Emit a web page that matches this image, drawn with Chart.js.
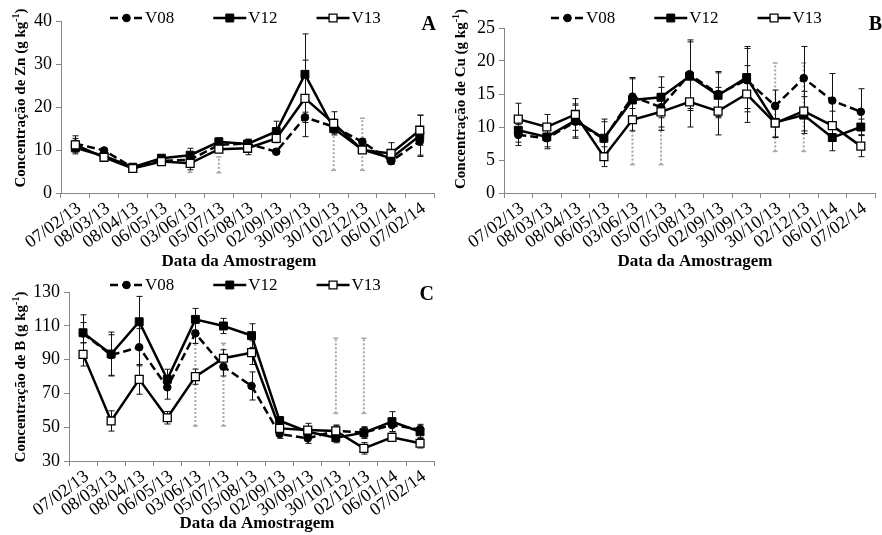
<!DOCTYPE html>
<html><head><meta charset="utf-8">
<script src="https://cdn.jsdelivr.net/npm/chart.js@4.4.0/dist/chart.umd.min.js"></script>
<style>
html,body{margin:0;padding:0;background:#fff;width:882px;height:535px;overflow:hidden}
canvas{position:absolute;display:block}
#cA{left:0;top:0}
#cB{left:441px;top:0}
#cC{left:0;top:270px}
</style></head><body>
<canvas id="cA" width="441" height="270"></canvas>
<canvas id="cB" width="441" height="270"></canvas>
<canvas id="cC" width="441" height="265"></canvas>
<script>
// ---------- DATA ----------
const categories = ['07/02/13','08/03/13','08/04/13','06/05/13','03/06/13','05/07/13','05/08/13','02/09/13','30/09/13','30/10/13','02/12/13','06/01/14','07/02/14'];
const seriesNames = ['V08','V12','V13'];

// Panel A - Zn
const znTicks = [0, 10, 20, 30, 40];
const znV08 = [11.5, 9.9, 5.9, 7.5, 7.7, 11.2, 11.5, 9.6, 17.6, 15.4, 11.9, 7.4, 12.0];
const znV12 = [10.5, 8.6, 6.0, 8.1, 8.8, 11.9, 11.4, 14.3, 27.6, 15.0, 10.1, 8.1, 13.3];
const znV13 = [11.2, 8.3, 5.7, 7.3, 6.9, 10.2, 10.4, 12.7, 22.0, 16.2, 10.0, 9.2, 14.6];
const znErrV08 = [1.2, 0.5, 0.4, 0.4, 1.0, 1.0, 1.0, 0.6, 1.2, 1.0, 0.8, 0.5, 3.2];
const znErrV12 = [1.0, 0.5, 0.4, 0.4, 1.6, 0.9, 1.1, 2.4, 9.4, 1.2, 0.6, 0.6, 4.8];
const znErrV13 = [2.1, 0.5, 0.4, 0.4, 1.5, 0.8, 1.5, 1.0, 8.9, 2.7, 0.5, 2.5, 3.5];
const znGrey = [null, null, null, null, [4.8, 6.0], [4.7, 8.4], null, null, null, [5.3, 17.2], [5.3, 17.4], null, null];

// Panel B - Cu
const cuTicks = [0, 5, 10, 15, 20, 25];
const cuV08 = [8.8, 8.3, 10.8, 8.2, 14.6, 13.0, 18.0, 15.0, 17.1, 13.2, 17.4, 14.0, 12.3];
const cuV12 = [9.5, 8.5, 11.0, 8.3, 14.1, 14.5, 17.7, 14.8, 17.5, 10.7, 11.8, 8.4, 10.0];
const cuV13 = [11.2, 10.0, 11.9, 5.5, 11.1, 12.3, 13.8, 12.4, 15.0, 10.6, 12.4, 10.2, 7.1];
const cuErrV08 = [1.6, 1.3, 2.5, 2.6, 2.9, 3.0, 5.2, 3.4, 4.8, 2.4, 4.8, 4.1, 3.5];
const cuErrV12 = [1.8, 1.8, 2.5, 2.9, 3.2, 3.1, 5.2, 3.4, 4.7, 2.3, 2.8, 2.0, 1.2];
const cuErrV13 = [2.4, 1.9, 2.4, 1.5, 1.7, 2.8, 3.8, 3.6, 4.3, 2.1, 3.0, 2.2, 1.6];
const cuGrey = [null, null, null, null, [4.3, 9.5], [4.3, 9.5], null, null, null, [6.3, 19.7], [6.3, 19.7], null, null];

// Panel C - B
const bTicks = [30, 50, 70, 90, 110, 130];
const bV08 = [105.5, 92.7, 97.3, 73.6, 105.5, 85.8, 74.4, 46.0, 43.4, 47.8, 46.8, 51.3, 48.7];
const bV12 = [105.9, 93.3, 112.4, 78.3, 113.8, 109.9, 104.2, 53.8, 47.3, 43.8, 46.8, 53.3, 47.3];
const bV13 = [93.1, 53.7, 78.3, 55.6, 79.9, 90.8, 94.1, 49.3, 48.3, 47.8, 37.5, 44.0, 40.5];
const bErrV08 = [11, 12, 11, 7, 6, 5.5, 8.3, 2.6, 3, 3, 3, 4, 3];
const bErrV12 = [6, 13, 15, 6, 6.5, 4.5, 7, 2.5, 3, 3, 3.5, 5.9, 3.5];
const bErrV13 = [6.9, 6, 8.8, 3.7, 4.5, 5, 7, 2.5, 4, 3.5, 3.4, 2.4, 2.8];
const bGrey = [null, null, null, null, [50.7, 99.6], [50.7, 99.6], null, null, null, [58.2, 102.6], [58.2, 102.6], null, null];

// ---------- STYLE ----------
const FONT = '"Liberation Serif", "Times New Roman", serif';
const AXIS_COLOR = '#868686';

const errorBarPlugin = {
  id: 'errorBars',
  beforeDatasetsDraw(chart, args, opts) {
    const {ctx} = chart;
    const xs = chart.scales.x, ys = chart.scales.y;
    ctx.save();
    (opts.grey || []).forEach((r, i) => {
      if (!r) return;
      const px = xs.getPixelForValue(i);
      const y1 = ys.getPixelForValue(r[0]), y2 = ys.getPixelForValue(r[1]);
      ctx.strokeStyle = '#a6a6a6';
      ctx.lineWidth = 2;
      ctx.setLineDash([2, 2]);
      ctx.beginPath(); ctx.moveTo(px, y1); ctx.lineTo(px, y2); ctx.stroke();
      ctx.setLineDash([]);
      ctx.lineWidth = 1.5;
      [y1, y2].forEach(yy => { ctx.beginPath(); ctx.moveTo(px - 2.5, yy); ctx.lineTo(px + 2.5, yy); ctx.stroke(); });
    });
    ctx.strokeStyle = '#111';
    ctx.lineWidth = 1;
    (opts.errors || []).forEach((errs, di) => {
      const vals = chart.data.datasets[di].data;
      errs.forEach((e, i) => {
        if (e == null || vals[i] == null) return;
        const px = Math.round(xs.getPixelForValue(i)) + 0.5;
        const yT = ys.getPixelForValue(vals[i] + e), yB = ys.getPixelForValue(vals[i] - e);
        ctx.beginPath(); ctx.moveTo(px, yT); ctx.lineTo(px, yB); ctx.stroke();
        ctx.beginPath(); ctx.moveTo(px - 3, yT); ctx.lineTo(px + 3, yT); ctx.moveTo(px - 3, yB); ctx.lineTo(px + 3, yB); ctx.stroke();
      });
    });
    ctx.restore();
  }
};

const panelTextPlugin = {
  id: 'panelText',
  afterDraw(chart, args, o) {
    const {ctx} = chart;
    ctx.save();
    ctx.textBaseline = 'middle';
    ctx.font = '17px ' + FONT;
    let x = o.legendX;
    const ly = o.legendY;
    chart.data.datasets.forEach((ds) => {
      const w = 33;
      ctx.strokeStyle = '#000';
      ctx.lineWidth = ds.borderWidth;
      ctx.setLineDash(ds.borderDash || []);
      ctx.beginPath(); ctx.moveTo(x, ly); ctx.lineTo(x + w, ly); ctx.stroke();
      ctx.setLineDash([]);
      ctx.fillStyle = ds.pointBackgroundColor;
      ctx.strokeStyle = ds.pointBorderColor;
      ctx.lineWidth = ds.pointBorderWidth;
      Chart.helpers.drawPoint(ctx, {pointStyle: ds.pointStyle, radius: ds.pointRadius, rotation: 0, borderWidth: ds.pointBorderWidth}, x + w / 2, ly);
      ctx.fillStyle = '#000';
      ctx.textAlign = 'left';
      ctx.fillText(ds.label, x + w + 2, ly + 1);
      x += w + 2 + ctx.measureText(ds.label).width + 39;
    });
    ctx.font = 'bold 20px ' + FONT;
    ctx.textAlign = 'right';
    ctx.textBaseline = 'alphabetic';
    ctx.fillText(o.letter, o.letterX, o.letterY);
    ctx.font = 'bold 17px ' + FONT;
    ctx.textAlign = 'center';
    ctx.textBaseline = 'middle';
    ctx.fillText(o.xTitle, o.xTitleX, o.xTitleY);
    ctx.translate(o.yTitleX, o.yTitleY);
    ctx.rotate(-Math.PI / 2);
    const mainFont = 'bold 15px ' + FONT, supFont = 'bold 10px ' + FONT;
    ctx.font = mainFont; const w1 = ctx.measureText(o.yTitle[0]).width;
    ctx.font = supFont; const w2 = ctx.measureText(o.yTitle[1]).width;
    ctx.font = mainFont; const w3 = ctx.measureText(o.yTitle[2]).width;
    let sx = -(w1 + w2 + w3) / 2;
    ctx.textAlign = 'left';
    ctx.font = mainFont; ctx.fillText(o.yTitle[0], sx, 0); sx += w1;
    ctx.font = supFont; ctx.fillText(o.yTitle[1], sx, -5); sx += w2;
    ctx.font = mainFont; ctx.fillText(o.yTitle[2], sx, 0);
    ctx.restore();
  }
};

function makeChart(id, values, errors, grey, ticks, box, text) {
  const ds = [
    {label: seriesNames[0], data: values[0], borderColor: '#000', borderWidth: 2.5, borderDash: [8, 4],
     pointStyle: 'circle', pointRadius: 3.8, pointBackgroundColor: '#000', pointBorderColor: '#000', pointBorderWidth: 1, order: 3},
    {label: seriesNames[1], data: values[1], borderColor: '#000', borderWidth: 2.5, borderDash: [],
     pointStyle: 'rect', pointRadius: 5.6, pointBackgroundColor: '#000', pointBorderColor: '#000', pointBorderWidth: 1, order: 2},
    {label: seriesNames[2], data: values[2], borderColor: '#000', borderWidth: 2.5, borderDash: [],
     pointStyle: 'rect', pointRadius: 5.6, pointBackgroundColor: '#fff', pointBorderColor: '#000', pointBorderWidth: 1.3, order: 1}
  ];
  ds.forEach(d => { d.tension = 0; d.fill = false; d.pointHoverRadius = d.pointRadius; });
  return new Chart(document.getElementById(id), {
    type: 'line',
    data: {labels: categories, datasets: ds},
    plugins: [errorBarPlugin, panelTextPlugin],
    options: {
      responsive: false, animation: false, devicePixelRatio: 1,
      layout: {padding: {left: 0, top: box.top, right: box.right, bottom: 0}},
      plugins: {
        legend: {display: false}, tooltip: {enabled: false}, title: {display: false},
        errorBars: {errors: errors, grey: grey},
        panelText: text
      },
      scales: {
        x: {
          type: 'category', offset: true,
          grid: {offset: true, drawOnChartArea: false, drawTicks: true, tickLength: 5, color: AXIS_COLOR},
          border: {display: true, color: AXIS_COLOR, width: 1},
          ticks: {font: {family: FONT, size: 18}, color: '#000', minRotation: 36, maxRotation: 36, autoSkip: false, padding: 0, labelOffset: 4},
          afterFit: s => { s.height = box.xAxisH; }
        },
        y: {
          min: ticks[0], max: ticks[ticks.length - 1],
          afterBuildTicks: s => { s.ticks = ticks.map(v => ({value: v})); },
          grid: {drawOnChartArea: false, drawTicks: true, tickLength: 5, color: AXIS_COLOR},
          border: {display: true, color: AXIS_COLOR, width: 1},
          ticks: {font: {family: FONT, size: 18}, color: '#000', padding: 4},
          afterFit: s => { s.width = box.axisW; }
        }
      }
    }
  });
}

makeChart('cA', [znV08, znV12, znV13], [znErrV08, znErrV12, znErrV13], znGrey, znTicks,
  {axisW: 61, top: 21, right: 1, xAxisH: 77},
  {legendX: 110, legendY: 18, letter: 'A', letterX: 436, letterY: 30,
   xTitle: 'Data da Amostragem', xTitleX: 239, xTitleY: 262,
   yTitle: ['Concentração de Zn (g kg', '-1', ')'], yTitleX: 21, yTitleY: 98});

makeChart('cB', [cuV08, cuV12, cuV13], [cuErrV08, cuErrV12, cuErrV13], cuGrey, cuTicks,
  {axisW: 63, top: 28, right: 1, xAxisH: 77},
  {legendX: 110, legendY: 18, letter: 'B', letterX: 441, letterY: 30,
   xTitle: 'Data da Amostragem', xTitleX: 254, xTitleY: 262,
   yTitle: ['Concentração de Cu (g kg', '-1', ')'], yTitleX: 20, yTitleY: 99});

makeChart('cC', [bV08, bV12, bV13], [bErrV08, bErrV12, bErrV13], bGrey, bTicks,
  {axisW: 69, top: 22, right: 0, xAxisH: 74},
  {legendX: 110, legendY: 15, letter: 'C', letterX: 434, letterY: 30,
   xTitle: 'Data da Amostragem', xTitleX: 257, xTitleY: 254,
   yTitle: ['Concentração de B (g kg', '-1', ')'], yTitleX: 21, yTitleY: 107});
</script>
</body></html>
